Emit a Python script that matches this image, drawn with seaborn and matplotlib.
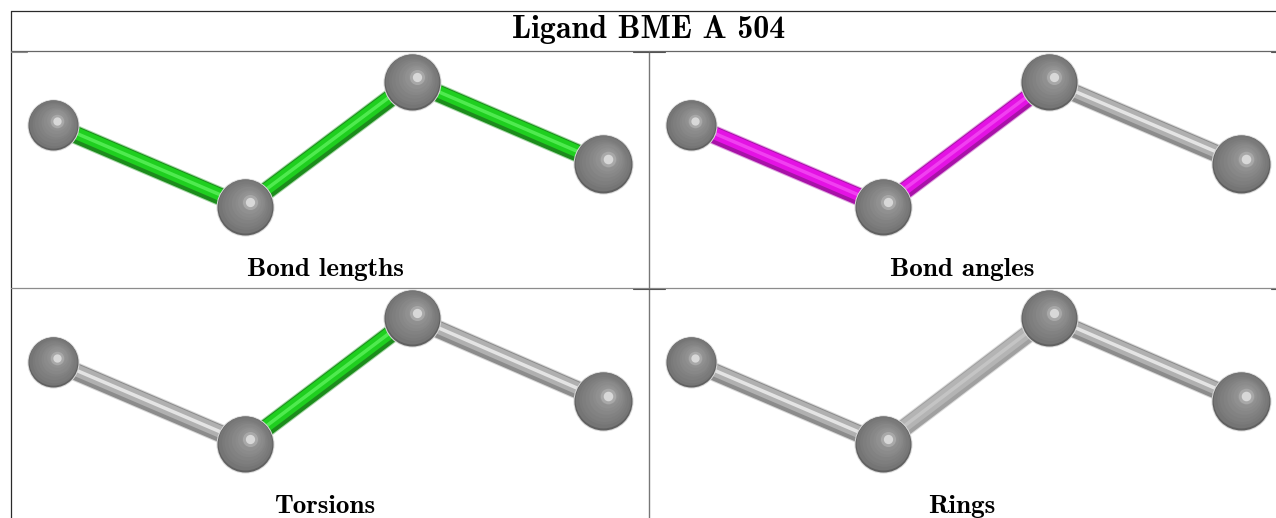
import numpy as np
import pandas as pd
import seaborn as sns
import matplotlib.pyplot as plt

title = "Ligand BME A 504"
panel_names = ["Bond lengths", "Bond angles", "Torsions", "Rings"]

# atom centres, in pixels, one list per panel
atom_x = [[53, 245, 412, 603], [691, 883, 1049, 1241], [53, 245, 412, 603], [691, 883, 1049, 1241]]
atom_y = [[125, 207, 82, 164], [125, 207, 82, 164], [362, 444, 318, 401], [362, 444, 318, 401]]
atom_r = [26, 29, 29, 30]

# bond shades: outer edge, dark lower side, body, highlight
green = ["#a8d8a8", "#1c8c1c", "#1fcf1f", "#4fea4f"]
magenta = ["#e0a8e0", "#a812a8", "#e412e4", "#f040f0"]
grey = ["#d8d8d8", "#8c8c8c", "#b0b0b0", "#e4e4e4"]
ring = ["#dcdcdc", "#a0a0a0", "#b4b4b4", "#c4c4c4"]
bond_colours = [
    [green, green, green],
    [magenta, magenta, grey],
    [grey, green, grey],
    [grey, ring, grey],
]

sns.set_theme(style="white")
fig, ax = plt.subplots(figsize=(12.76, 5.18), dpi=100)
fig.subplots_adjust(0, 0, 1, 1)
ax.set_xlim(0, 1276)
ax.set_ylim(518, 0)
ax.axis("off")


def draw_bond(x0, y0, x1, y1, cols):
    dx, dy = x1 - x0, y1 - y0
    n = np.hypot(dx, dy)
    nx, ny = dy / n, -dx / n  # normal pointing up the screen
    if ny > 0:
        nx, ny = -nx, -ny
    # width in px and sideways shift for each shade
    for col, w, off in zip(cols, [19, 17, 12, 3.5], [0, 0, 1.5, 1.5]):
        d = pd.DataFrame({"x": [x0 + nx * off, x1 + nx * off], "y": [y0 + ny * off, y1 + ny * off]})
        sns.lineplot(data=d, x="x", y="y", color=col, linewidth=w * 0.72, ax=ax, sort=False,
                     estimator=None, legend=False, solid_capstyle="butt", zorder=2)


def disc(x, y, r, shade, z):
    d = pd.DataFrame({"x": [x], "y": [y]})
    sns.scatterplot(data=d, x="x", y="y", s=(2 * r * 0.72) ** 2, color=shade,
                    linewidth=0, ax=ax, legend=False, zorder=z)


def draw_atom(x, y, r):
    disc(x, y, r, "#d8d8d8", 3)
    disc(x, y, r - 1, "#606060", 4)
    # flat grey body getting a bit lighter towards the highlight
    steps = 8
    for i in range(steps):
        t = i / (steps - 1)
        rad = r * (0.93 - 0.62 * t)
        g = 0.46 + 0.12 * t
        disc(x + r * 0.17 * t, y - 0.03 * r - r * 0.17 * t, rad, str(g), 5 + i)
    disc(x + r * 0.17, y - r * 0.17, r * 0.26, "#a8a8a8", 14)
    disc(x + r * 0.17, y - r * 0.17, r * 0.16, "#d8d8d8", 15)


for p in range(4):
    for b in range(3):
        draw_bond(atom_x[p][b], atom_y[p][b], atom_x[p][b + 1], atom_y[p][b + 1], bond_colours[p][b])
    for xa, ya, ra in zip(atom_x[p], atom_y[p], atom_r):
        draw_atom(xa, ya, ra)

ax.set_xlabel("")
ax.set_ylabel("")

# table rules
ax.plot([11, 1276], [11, 11], color="#2a2a2a", lw=0.9)
ax.plot([11, 11], [11, 518], color="#2a2a2a", lw=0.9)
ax.plot([11, 1276], [50.5, 50.5], color="#666666", lw=0.9)
ax.plot([11, 1276], [287.5, 287.5], color="#8c8c8c", lw=0.9)
ax.plot([649, 649], [50.5, 518], color="#777777", lw=1.0)
# small rule stubs where the table cells meet
for y0 in [51.5, 288.5]:
    ax.plot([633, 665], [y0, y0], color="#555555", lw=0.8)
    ax.plot([1271, 1276], [y0, y0], color="#555555", lw=0.8)
ax.plot([11, 27], [51.5, 51.5], color="#888888", lw=0.8)

font = "cmb10"
ax.text(649, 38, title, ha="center", va="baseline", fontsize=23, family=font, color="black")
label_x = [325, 962, 325, 962]
label_y = [276, 276, 513, 513]
for name, lx, ly in zip(panel_names, label_x, label_y):
    ax.text(lx, ly, name, ha="center", va="baseline", fontsize=19.5, family=font, color="black")

fig.savefig("out.png", dpi=100)
